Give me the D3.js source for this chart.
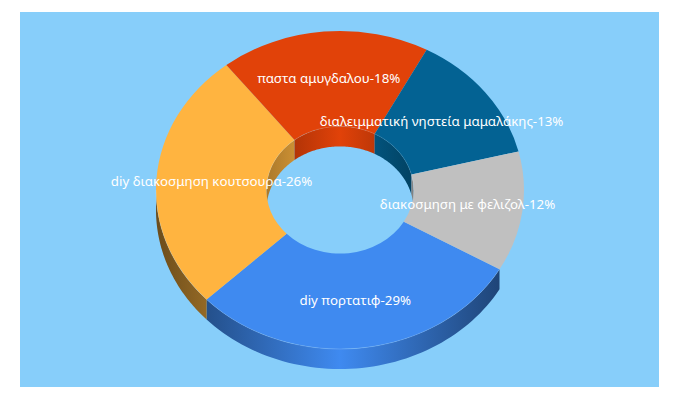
<!DOCTYPE html>
<html>
<head>
<meta charset="utf-8">
<script src="https://cdn.jsdelivr.net/npm/d3@7"></script>
<style>
html, body { margin: 0; padding: 0; background: #fff; }
svg { display: block; }
</style>
</head>
<body>
<div id="chart"></div>
<script>
var categories = ["diy πορτατιφ", "diy διακοσμηση κουτσουρα", "παστα αμυγδαλου", "διαλειμματική νηστεία μαμαλάκης", "διακοσμηση με φελιζολ"];
var values = [29.6, 26.5, 18.4, 13.3, 12.2];
var percentLabels = ["29%", "26%", "18%", "13%", "12%"];
var colors = ["#3f8af0", "#ffb440", "#e14209", "#036293", "#c0c0c0"];

var width = 680, height = 400;
var rx = 184, ry = 159, hole = 0.4, depth = 20;
var cx = 340, cy = 190;
var startAngle = 119.9 * Math.PI / 180;

var svg = d3.select("#chart").append("svg").attr("width", width).attr("height", height);
svg.append("rect").attr("x", 20).attr("y", 12).attr("width", 639).attr("height", 375).attr("fill", "#87cefa");

var pie = d3.pie().sort(null).startAngle(startAngle).endAngle(startAngle + 2 * Math.PI);
var slices = pie(values);

var defs = svg.append("defs");

// gradient across a wall: dark at both edges, slice colour in the middle
function wallGradient(id, color, x0, x1, edge) {
	var dark = d3.rgb(color);
	dark = d3.rgb(dark.r * edge, dark.g * edge, dark.b * edge);
	var g = defs.append("linearGradient").attr("id", id).attr("gradientUnits", "userSpaceOnUse")
		.attr("x1", x0).attr("x2", x1).attr("y1", 0).attr("y2", 0);
	g.append("stop").attr("offset", 0).attr("stop-color", dark.formatHex());
	g.append("stop").attr("offset", 0.5).attr("stop-color", color);
	g.append("stop").attr("offset", 1).attr("stop-color", dark.formatHex());
}

// point on the ellipse, angle is clockwise from the top
function pt(a, k, dy) {
	return [cx + rx * k * Math.sin(a), cy - ry * k * Math.cos(a) + dy];
}

function arcPoints(a0, a1, k, dy) {
	return d3.range(0, 61).map(function(i) { return pt(a0 + (a1 - a0) * i / 60, k, dy); });
}

// band between an arc on the top face and the same arc pushed down by depth
function wallPath(a0, a1, k) {
	var top = arcPoints(a0, a1, k, 0);
	var bottom = arcPoints(a0, a1, k, depth).reverse();
	return d3.line()(top.concat(bottom)) + "Z";
}

var TWO_PI = 2 * Math.PI;
var walls = svg.append("g");
var edges = [];

slices.forEach(function(d, i) {
	wallGradient("outer" + i, colors[i], cx - rx, cx + rx, 0.42);
	wallGradient("inner" + i, colors[i], cx - rx * hole, cx + rx * hole, 0.67);

	// the inner wall only shows on the back half of the hole
	[0, TWO_PI].forEach(function(shift) {
		var a0 = Math.max(d.startAngle, 1.5 * Math.PI + shift);
		var a1 = Math.min(d.endAngle, 2.5 * Math.PI + shift);
		if (a1 > a0) {
			walls.append("path").attr("d", wallPath(a0, a1, hole)).attr("fill", "url(#inner" + i + ")");
			edges.push(arcPoints(a0, a1, hole, 0));
		}
	});
	// the outer wall only on the front half
	var b0 = Math.max(d.startAngle, 0.5 * Math.PI);
	var b1 = Math.min(d.endAngle, 1.5 * Math.PI);
	if (b1 > b0) {
		walls.append("path").attr("d", wallPath(b0, b1, 1)).attr("fill", "url(#outer" + i + ")");
		edges.push(arcPoints(b0, b1, 1, 0));
	}
});

// top face, a flattened donut
var arc = d3.arc().innerRadius(rx * hole).outerRadius(rx);
var squash = ry / rx;
svg.append("g").attr("transform", "translate(" + cx + "," + cy + ") scale(1," + squash + ")")
	.selectAll("path").data(slices).enter().append("path")
	.attr("d", arc)
	.attr("fill", function(d, i) { return colors[i]; });

// faint light line where the walls meet the top face
svg.append("g").selectAll("path").data(edges).enter().append("path")
	.attr("d", d3.line())
	.attr("fill", "none")
	.attr("stroke", "#fff")
	.attr("stroke-opacity", 0.15)
	.attr("stroke-width", 1);

svg.append("g").selectAll("text").data(slices).enter().append("text")
	.attr("x", function(d) { return cx + arc.centroid(d)[0]; })
	.attr("y", function(d) { return cy + arc.centroid(d)[1] * squash + 4; })
	.attr("text-anchor", "middle")
	.attr("font-family", "'Noto Sans', sans-serif")
	.attr("font-size", 13.3)
	.attr("fill", "#fff")
	.text(function(d, i) { return categories[i] + "-" + percentLabels[i]; });
</script>
</body>
</html>
